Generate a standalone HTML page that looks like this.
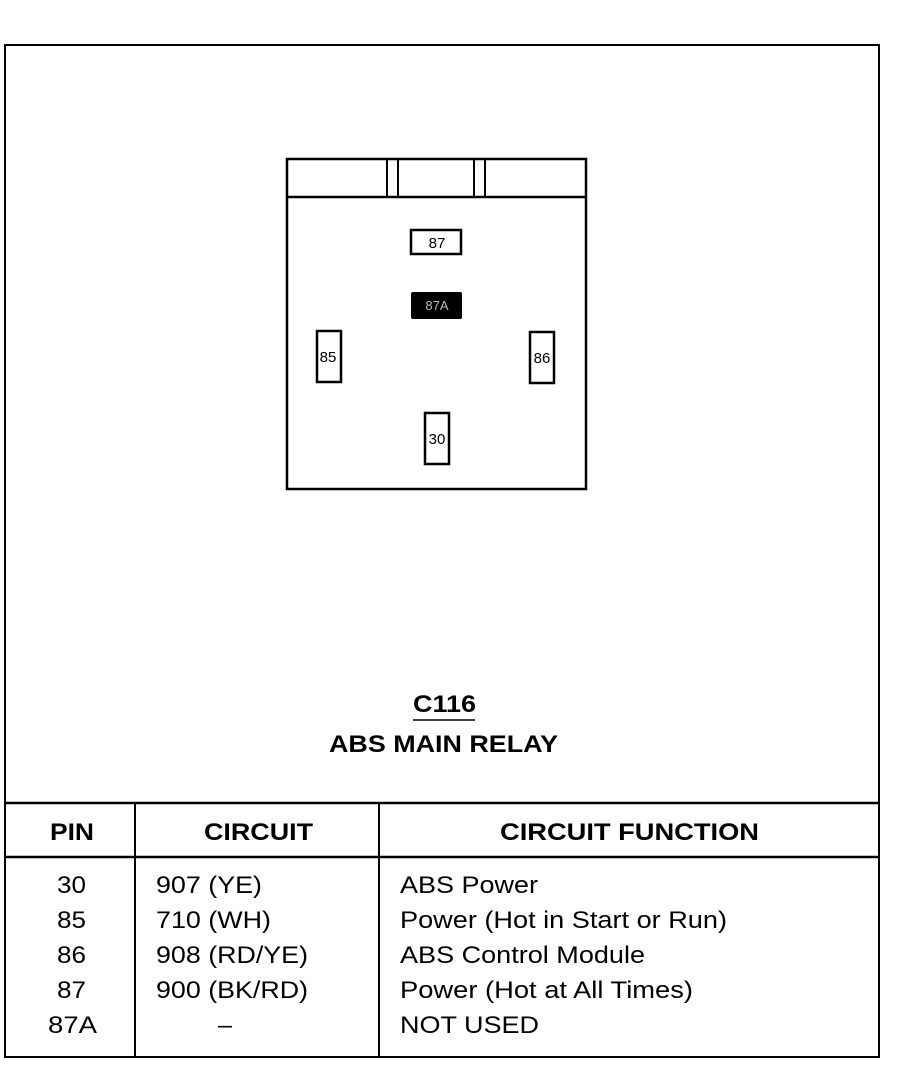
<!DOCTYPE html>
<html><head><meta charset="utf-8"><style>
html,body{margin:0;padding:0;background:#fff;}
svg{display:block}
text{font-family:"Liberation Sans",Arial,sans-serif;fill:#000}
</style></head><body>
<svg width="900" height="1088" viewBox="0 0 900 1088" xmlns="http://www.w3.org/2000/svg">
<rect width="900" height="1088" fill="#fff"/>
<g fill="none" stroke="#000">
<rect x="5" y="45" width="874" height="1012" stroke-width="2"/>
<rect x="287" y="159" width="299" height="330" stroke-width="2.5"/>
<line x1="287" y1="197" x2="586" y2="197" stroke-width="2.5"/>
<line x1="387" y1="159" x2="387" y2="197" stroke-width="2"/>
<line x1="398" y1="159" x2="398" y2="197" stroke-width="2"/>
<line x1="474" y1="159" x2="474" y2="197" stroke-width="2"/>
<line x1="485" y1="159" x2="485" y2="197" stroke-width="2"/>
<rect x="411" y="230" width="50" height="24" stroke-width="2.5"/>
<rect x="317" y="331" width="24" height="51" stroke-width="2.5"/>
<rect x="530" y="332" width="24" height="51" stroke-width="2.5"/>
<rect x="425" y="413" width="24" height="51" stroke-width="2.5"/>
<line x1="5" y1="803" x2="879" y2="803" stroke-width="2.5"/>
<line x1="5" y1="857" x2="879" y2="857" stroke-width="2.5"/>
<line x1="135" y1="803" x2="135" y2="1057" stroke-width="2"/>
<line x1="379" y1="803" x2="379" y2="1057" stroke-width="2"/>
<line x1="413" y1="720" x2="475" y2="720" stroke-width="1.5"/>
</g>
<rect x="411" y="292" width="51" height="27" rx="2" fill="#000"/>
<text x="437" y="310" font-size="13" text-anchor="middle" style="fill:#bbb">87A</text>
<text x="437" y="248" font-size="15" text-anchor="middle">87</text>
<text x="328" y="362" font-size="15" text-anchor="middle">85</text>
<text x="542" y="363" font-size="15" text-anchor="middle">86</text>
<text x="437" y="444" font-size="15" text-anchor="middle">30</text>
<text x="413" y="712" font-size="24" font-weight="bold" textLength="63" lengthAdjust="spacingAndGlyphs">C116</text>
<text x="329" y="752" font-size="24" font-weight="bold" textLength="229" lengthAdjust="spacingAndGlyphs">ABS MAIN RELAY</text>
<g font-size="24" font-weight="bold">
<text x="50" y="840" textLength="44" lengthAdjust="spacingAndGlyphs">PIN</text>
<text x="204" y="840" textLength="109" lengthAdjust="spacingAndGlyphs">CIRCUIT</text>
<text x="500" y="840" textLength="259" lengthAdjust="spacingAndGlyphs">CIRCUIT FUNCTION</text>
</g>
<g font-size="24" lengthAdjust="spacingAndGlyphs">
<text x="57" y="893" textLength="29" lengthAdjust="spacingAndGlyphs">30</text>
<text x="57" y="928" textLength="29" lengthAdjust="spacingAndGlyphs">85</text>
<text x="57" y="963" textLength="29" lengthAdjust="spacingAndGlyphs">86</text>
<text x="57" y="998" textLength="29" lengthAdjust="spacingAndGlyphs">87</text>
<text x="48" y="1033" textLength="49" lengthAdjust="spacingAndGlyphs">87A</text>
<text x="218" y="1033" textLength="14" lengthAdjust="spacingAndGlyphs">–</text>
<text x="156" y="893" textLength="106" lengthAdjust="spacingAndGlyphs">907 (YE)</text>
<text x="156" y="928" textLength="115" lengthAdjust="spacingAndGlyphs">710 (WH)</text>
<text x="156" y="963" textLength="152" lengthAdjust="spacingAndGlyphs">908 (RD/YE)</text>
<text x="156" y="998" textLength="152" lengthAdjust="spacingAndGlyphs">900 (BK/RD)</text>
<text x="400" y="893" textLength="138" lengthAdjust="spacingAndGlyphs">ABS Power</text>
<text x="400" y="928" textLength="327" lengthAdjust="spacingAndGlyphs">Power (Hot in Start or Run)</text>
<text x="400" y="963" textLength="245" lengthAdjust="spacingAndGlyphs">ABS Control Module</text>
<text x="400" y="998" textLength="293" lengthAdjust="spacingAndGlyphs">Power (Hot at All Times)</text>
<text x="400" y="1033" textLength="139" lengthAdjust="spacingAndGlyphs">NOT USED</text>
</g>
</svg>
</body></html>
